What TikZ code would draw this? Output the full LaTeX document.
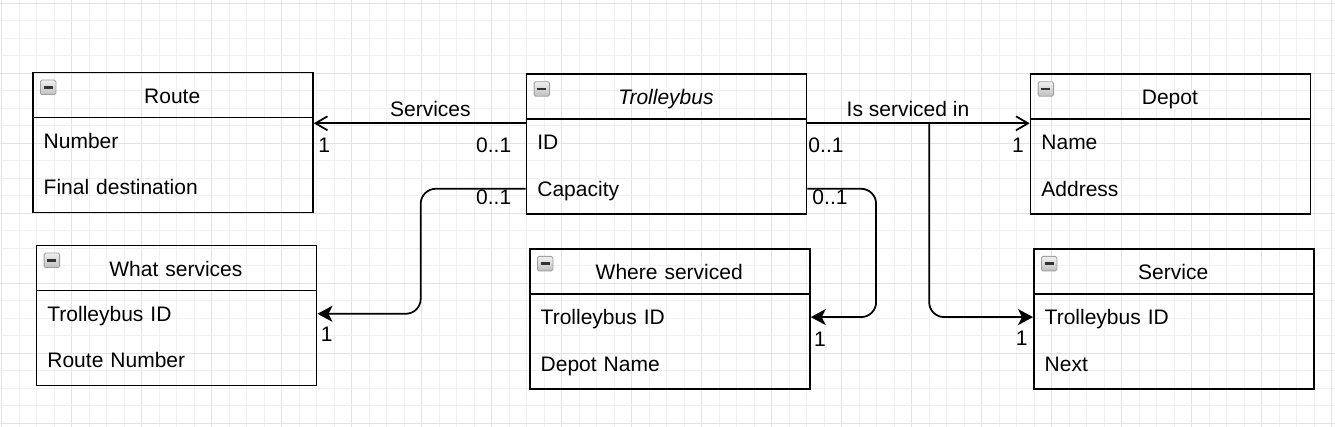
\documentclass[tikz,border=0pt]{standalone}
\usepackage{fontspec}
\setmainfont{Liberation Sans}
\usetikzlibrary{arrows.meta,calc}
\tikzset{
  classbox/.style={draw=black, line width=1.75pt, minimum width=280pt, minimum height=140pt, inner sep=0pt, anchor=north west},
  sepline/.style={line width=1.5pt, draw=black},
  titlecell/.style={minimum width=280pt, minimum height=45.5pt, inner sep=0pt, text width=280pt, align=center, text height=17pt, text depth=0pt, anchor=north west},
  rowcell/.style={minimum height=46pt, inner xsep=11.5pt, inner ysep=0pt, text width=257pt, align=left, text height=15pt, text depth=0pt, anchor=north west},
  iconbox/.style={anchor=north west, minimum width=15.5pt, minimum height=14.5pt, inner sep=0pt, draw=gray!75, line width=0.8pt, top color=gray!12, bottom color=gray!50, rounded corners=1.5pt},
  iconbar/.style={line width=2.5pt, draw=black!80},
  conn/.style={line width=1.75pt, draw=black},
  openend/.style={-{Straight Barb[length=12pt,width=14pt]}},
  filledend/.style={-{Stealth[length=15pt,width=16pt,inset=4pt]}},
  lbl/.style={inner sep=0pt, anchor=base},
  gridminor/.style={draw=gray!12, line width=1pt},
  gridmajor/.style={draw=gray!22, line width=1pt},
}
\newcommand\umlclass[6]{%
  \node[classbox] (#1) at (#2,#3) {};
  \node[titlecell] (#1-title) at (#1.north west) {#4};
  \draw[sepline] (#1-title.south west) -- (#1-title.south east);
  \node[iconbox] (#1-icon) at ([xshift=8pt,yshift=-8pt]#1.north west) {};
  \draw[iconbar] ([xshift=-4.5pt]#1-icon.center) -- ([xshift=4.5pt]#1-icon.center);
  \node[rowcell] (#1-r1) at (#1-title.south west) {#5};
  \node[rowcell] (#1-r2) at (#1-r1.south west) {#6};
}
\begin{document}
\begin{tikzpicture}[x=1pt, y=-1pt, font=\fontsize{21pt}{25pt}\selectfont]
\useasboundingbox (0,0) rectangle (1335,427);
\fill[white] (0,0) rectangle (1335,427);
% grid
\foreach \k in {0,...,76}{
  \pgfmathsetmacro\gx{1.7+17.5*\k}
  \pgfmathtruncatemacro\m{mod(\k,4)}
  \ifnum\m=0 \draw[gridmajor] (\gx,0) -- (\gx,427); \else \draw[gridminor] (\gx,0) -- (\gx,427); \fi
}
\foreach \k in {0,...,24}{
  \pgfmathsetmacro\gy{3.3+17.5*\k}
  \pgfmathtruncatemacro\m{mod(\k,4)}
  \ifnum\m=0 \draw[gridmajor] (0,\gy) -- (1335,\gy); \else \draw[gridminor] (0,\gy) -- (1335,\gy); \fi
}
% classes
\umlclass{route}{32}{71.7}{Route}{Number}{Final destination}
\umlclass{trolley}{525.7}{73.3}{\itshape Trolleybus}{ID}{Capacity}
\umlclass{depot}{1029.7}{73.3}{Depot}{Name}{Address}
\umlclass{whatsvc}{35.7}{244.7}{What services}{Trolleybus ID}{Route Number}
\umlclass{where}{529}{248}{Where serviced}{Trolleybus ID}{Depot Name}
\umlclass{service}{1033}{248}{Service}{Trolleybus ID}{Next}
% connectors
\coordinate (tA) at ([yshift=-50pt]trolley.north west);
\coordinate (tB) at ([yshift=-50pt]trolley.north east);
\coordinate (split) at ([xshift=121.7pt]tB);
\coordinate (cR) at ([xshift=70pt]trolley-r2.east);
\coordinate (cL) at ([xshift=-105pt]trolley-r2.west);
\draw[conn, openend] (tA) -- (route.east |- tA);
\draw[conn, openend] (tB) -- (depot.west |- tB);
\draw[conn, filledend, rounded corners=15pt] (split) |- (service.west |- service-r1);
\draw[conn, filledend, rounded corners=15pt] (trolley.east |- trolley-r2) -- (cR) |- (where.east |- where-r1);
\draw[conn, filledend, rounded corners=15pt] (trolley.west |- trolley-r2) -- (cL) |- (whatsvc.east |- whatsvc-r1);
% labels
\node[lbl] (lServices) at (430.4,116.7) {Services};
\node[lbl] (lIsServ) at (908,116.7) {Is serviced in};
\node[lbl] (m1) at (324.2,152.3) {1};
\node[lbl] (m2) at (493.7,152.3) {0..1};
\node[lbl] (m3) at (826,152.7) {0..1};
\node[lbl] (m4) at (1018,152.7) {1};
\node[lbl] (m5) at (493.7,205) {0..1};
\node[lbl] (m6) at (326.7,341.7) {1};
\node[lbl] (m7) at (830,205) {0..1};
\node[lbl] (m8) at (820,346.7) {1};
\node[lbl] (m9) at (1021.7,345) {1};
\end{tikzpicture}
\end{document}
